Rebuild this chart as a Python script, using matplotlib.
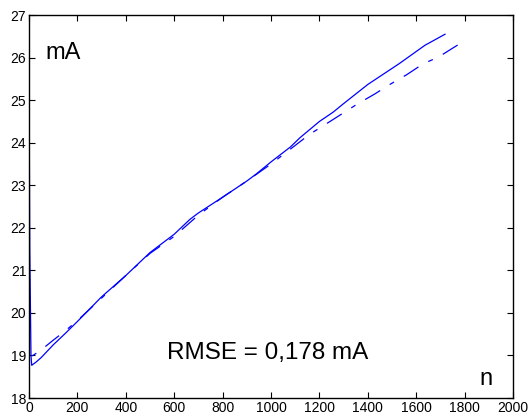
import numpy as np
import matplotlib
matplotlib.use("Agg")
import matplotlib.pyplot as plt

plt.rcParams['font.family'] = ['Liberation Sans', 'DejaVu Sans']

# measured current (solid)
n_meas = [0, 3, 8, 11, 30, 50, 100, 150, 200, 300, 400, 500, 600, 665, 700, 800,
          900, 940, 1000, 1080, 1120, 1200, 1257, 1300, 1400, 1530, 1636, 1719]
i_meas = [25.4, 21.5, 19.0, 18.77, 18.85, 18.95, 19.25, 19.52, 19.8, 20.38, 20.88,
          21.42, 21.85, 22.2, 22.35, 22.72, 23.1, 23.27, 23.55, 23.9, 24.12, 24.5,
          24.72, 24.92, 25.37, 25.86, 26.29, 26.55]

# model (dash-dot)
n_model = [0, 50, 100, 150, 200, 300, 400, 500, 600, 700, 800, 900, 1000, 1080,
           1160, 1230, 1354, 1430, 1485, 1561, 1630, 1691, 1747, 1795]
i_model = [18.94, 19.13, 19.36, 19.58, 19.82, 20.35, 20.88, 21.4, 21.8, 22.3, 22.72,
           23.1, 23.5, 23.85, 24.2, 24.45, 24.9, 25.15, 25.35, 25.6, 25.86, 26.01,
           26.21, 26.38]

fig = plt.figure(figsize=(5.28, 4.19), dpi=100)
ax = fig.add_axes([0.055, 0.050, 0.9166, 0.914])

ax.plot(n_meas, i_meas, color='#0000ff', lw=0.9)
ax.plot(n_model, i_model, color='#0000ff', lw=0.9, linestyle=(20, (14, 9, 4, 9)))

ax.set_xlim(0, 2000)
ax.set_ylim(18, 27)
ax.set_xticks(np.arange(0, 2001, 200))
ax.set_yticks(np.arange(18, 28, 1))
ax.tick_params(direction='in', top=True, right=True, labelsize=10, length=4, pad=2)
for s in ax.spines.values():
    s.set_linewidth(1.0)

ax.text(0.033, 0.90, 'mA', transform=ax.transAxes, fontsize=17, va='center')
ax.text(0.285, 0.118, 'RMSE = 0,178 mA', transform=ax.transAxes, fontsize=17.5, va='center')
ax.text(0.93, 0.05, 'n', transform=ax.transAxes, fontsize=17, va='center')

fig.savefig('out.png', dpi=100)
